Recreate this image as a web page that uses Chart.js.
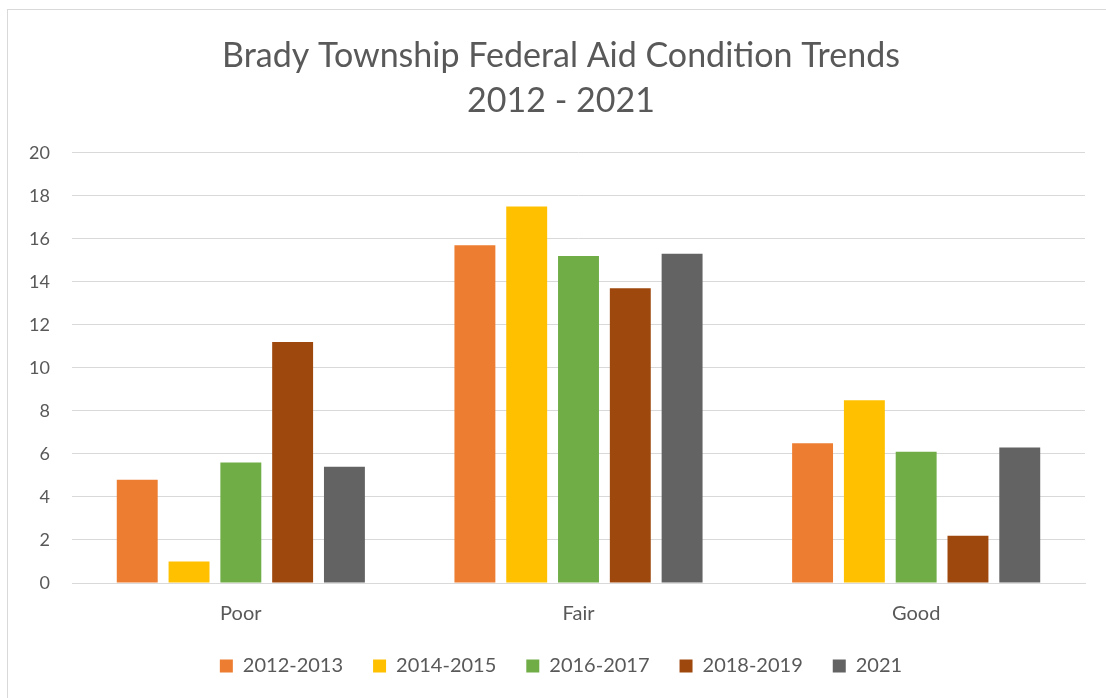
<!DOCTYPE html>
<html>
<head>
<meta charset="utf-8">
<script src="https://cdn.jsdelivr.net/npm/chart.js@4"></script>
<style>
  html, body { margin: 0; padding: 0; background: #fff; overflow: hidden; }
  #frame {
    position: absolute; left: 7px; top: 9px; width: 1099px; height: 689px;
    border-left: 1px solid #d9d9d9; border-top: 1px solid #d9d9d9;
  }
  #wrap { position: absolute; left: 8px; top: 10px; width: 1128px; height: 688px; }
</style>
</head>
<body>
<div id="frame"></div>
<div id="wrap"><canvas id="conditionChart"></canvas></div>
<script>
// Data
const categories = ["Poor", "Fair", "Good"];
const seriesNames = ["2012-2013", "2014-2015", "2016-2017", "2018-2019", "2021"];
const values2012 = [4.8, 15.7, 6.5];
const values2014 = [1.0, 17.5, 8.5];
const values2016 = [5.6, 15.2, 6.1];
const values2018 = [11.2, 13.7, 2.2];
const values2021 = [5.4, 15.3, 6.3];
const colors = ["#ed7d31", "#ffc000", "#70ad47", "#9e480e", "#636363"];

const seriesValues = [values2012, values2014, values2016, values2018, values2021];
const font = "Lato, 'Open Sans', sans-serif";
const textColor = "#595959";

const ctx = document.getElementById("conditionChart").getContext("2d");

new Chart(ctx, {
  type: "bar",
  data: {
    labels: categories,
    datasets: seriesNames.map((name, i) => ({
      label: name,
      data: seriesValues[i],
      backgroundColor: colors[i],
      borderWidth: 0,
      categoryPercentage: 0.767,
      barPercentage: 0.79
    }))
  },
  options: {
    responsive: true,
    maintainAspectRatio: false,
    animation: false,
    layout: { padding: { top: 24, right: 22, bottom: 12, left: 0 } },
    plugins: {
      title: {
        display: true,
        text: ["Brady Township Federal Aid Condition Trends", "2012 - 2021"],
        color: textColor,
        font: { family: font, size: 34, weight: "normal", lineHeight: 1.32 },
        padding: { top: 0, bottom: 29 }
      },
      legend: {
        position: "bottom",
        labels: {
          color: textColor,
          font: { family: font, size: 20 },
          boxWidth: 13,
          boxHeight: 13,
          padding: 30
        }
      },
      tooltip: { enabled: false }
    },
    scales: {
      x: {
        grid: { display: false, drawTicks: false },
        border: { color: "#d9d9d9" },
        ticks: { color: textColor, font: { family: font, size: 20 }, padding: 19 },
        afterFit: (scale) => { scale.height = 43; }
      },
      y: {
        min: 0,
        max: 20,
        ticks: { stepSize: 2, color: textColor, font: { family: font, size: 18 }, padding: 22 },
        grid: { color: "#d9d9d9", drawTicks: false },
        border: { display: false },
        afterFit: (scale) => { scale.width = 64; }
      },
      // empty right-hand spacer so the title and legend sit where the original has them
      spacer: {
        position: "right",
        grid: { display: false, drawTicks: false },
        ticks: { display: false },
        border: { display: false },
        afterFit: (scale) => { scale.width = 29; }
      }
    }
  }
});
</script>
</body>
</html>
